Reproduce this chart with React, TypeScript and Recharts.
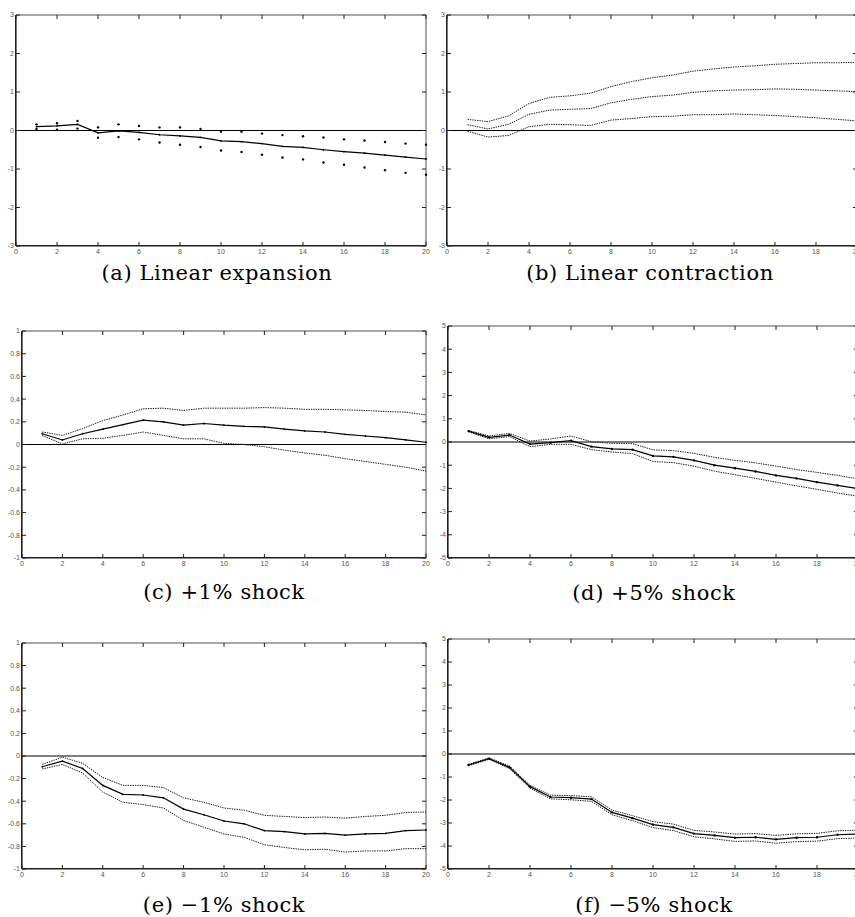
import { LineChart, Line, XAxis, YAxis, ReferenceLine } from 'recharts'

const horizons = [1, 2, 3, 4, 5, 6, 7, 8, 9, 10, 11, 12, 13, 14, 15, 16, 17, 18, 19, 20]
const xTicks = [0, 2, 4, 6, 8, 10, 12, 14, 16, 18, 20]
const ticksThree = [-3, -2, -1, 0, 1, 2, 3]
const ticksOne = [-1, -0.8, -0.6, -0.4, -0.2, 0, 0.2, 0.4, 0.6, 0.8, 1]
const ticksFive = [-5, -4, -3, -2, -1, 0, 1, 2, 3, 4, 5]

// (a) linear expansion
const expMean = [0.1, 0.12, 0.16, -0.06, -0.01, -0.05, -0.11, -0.14, -0.18, -0.27, -0.29, -0.34, -0.41, -0.44, -0.5, -0.55, -0.59, -0.64, -0.69, -0.74]
const expUpper = [0.16, 0.19, 0.25, 0.08, 0.16, 0.12, 0.08, 0.08, 0.04, -0.03, -0.03, -0.08, -0.12, -0.15, -0.18, -0.23, -0.26, -0.3, -0.34, -0.37]
const expLower = [0.04, 0.02, 0.05, -0.19, -0.17, -0.23, -0.31, -0.37, -0.43, -0.52, -0.56, -0.63, -0.7, -0.75, -0.83, -0.89, -0.96, -1.03, -1.1, -1.15]

// (b) linear contraction
const conMean = [0.15, 0.04, 0.16, 0.42, 0.53, 0.55, 0.57, 0.72, 0.81, 0.88, 0.92, 0.99, 1.03, 1.05, 1.06, 1.08, 1.07, 1.05, 1.03, 1.01]
const conUpper = [0.29, 0.23, 0.38, 0.7, 0.86, 0.9, 0.97, 1.14, 1.27, 1.37, 1.44, 1.54, 1.6, 1.65, 1.68, 1.72, 1.74, 1.76, 1.76, 1.77]
const conLower = [-0.02, -0.17, -0.13, 0.1, 0.16, 0.15, 0.13, 0.27, 0.31, 0.36, 0.37, 0.41, 0.41, 0.43, 0.41, 0.39, 0.36, 0.33, 0.29, 0.25]

// (c) +1% shock
const pos1Mean = [0.095, 0.04, 0.095, 0.135, 0.175, 0.215, 0.2, 0.17, 0.185, 0.17, 0.16, 0.155, 0.135, 0.12, 0.11, 0.09, 0.075, 0.06, 0.04, 0.02]
const pos1Upper = [0.11, 0.08, 0.14, 0.21, 0.26, 0.315, 0.32, 0.3, 0.32, 0.32, 0.32, 0.325, 0.32, 0.31, 0.31, 0.305, 0.3, 0.29, 0.285, 0.26]
const pos1Lower = [0.08, 0.005, 0.05, 0.055, 0.08, 0.11, 0.08, 0.05, 0.05, 0.01, 0.0, -0.02, -0.05, -0.075, -0.095, -0.125, -0.15, -0.175, -0.2, -0.235]

// (d) +5% shock
const pos5Mean = [0.47, 0.2, 0.3, -0.09, -0.03, 0.06, -0.2, -0.3, -0.33, -0.6, -0.64, -0.79, -1.0, -1.13, -1.27, -1.44, -1.57, -1.73, -1.87, -2.01]
const pos5Upper = [0.5, 0.26, 0.37, 0.04, 0.13, 0.26, 0.01, -0.06, -0.07, -0.34, -0.37, -0.49, -0.66, -0.79, -0.9, -1.04, -1.19, -1.31, -1.44, -1.59]
const pos5Lower = [0.44, 0.14, 0.23, -0.2, -0.1, -0.1, -0.33, -0.43, -0.5, -0.84, -0.89, -1.04, -1.26, -1.41, -1.57, -1.73, -1.89, -2.04, -2.2, -2.34]

// (e) -1% shock
const neg1Mean = [-0.095, -0.045, -0.11, -0.26, -0.34, -0.345, -0.37, -0.47, -0.52, -0.575, -0.6, -0.66, -0.67, -0.69, -0.685, -0.7, -0.69, -0.685, -0.66, -0.655]
const neg1Upper = [-0.075, -0.01, -0.065, -0.19, -0.26, -0.26, -0.28, -0.37, -0.41, -0.46, -0.48, -0.525, -0.535, -0.545, -0.54, -0.55, -0.535, -0.525, -0.5, -0.495]
const neg1Lower = [-0.115, -0.075, -0.15, -0.32, -0.41, -0.43, -0.46, -0.57, -0.63, -0.69, -0.72, -0.785, -0.81, -0.83, -0.825, -0.85, -0.84, -0.84, -0.82, -0.82]

// (f) -5% shock
const neg5Mean = [-0.48, -0.2, -0.58, -1.42, -1.87, -1.9, -1.96, -2.54, -2.79, -3.07, -3.19, -3.46, -3.54, -3.64, -3.62, -3.71, -3.64, -3.62, -3.51, -3.48]
const neg5Upper = [-0.45, -0.17, -0.52, -1.36, -1.79, -1.81, -1.86, -2.44, -2.68, -2.94, -3.05, -3.32, -3.39, -3.48, -3.46, -3.54, -3.47, -3.45, -3.34, -3.31]
const neg5Lower = [-0.51, -0.23, -0.64, -1.48, -1.95, -1.99, -2.06, -2.64, -2.9, -3.2, -3.33, -3.6, -3.69, -3.8, -3.78, -3.88, -3.81, -3.79, -3.68, -3.65]

const ML = 20
const MT = 6
const MR = 6
const MB = 14

const TICK_FONT = 'Liberation Sans, Arial, sans-serif'
const DARK = '#1f1f1f'

type PanelProps = {
  mean: number[]
  upper: number[]
  lower: number[]
  yDomain: [number, number]
  yTicks: number[]
  box: [number, number, number, number]
  caption: string
  captionX: number
  captionY: number
  meanDotted?: boolean
  bandDots?: boolean
  markerR?: number
}

function Panel({ mean, upper, lower, yDomain, yTicks, box, caption, captionX, captionY, meanDotted, bandDots, markerR = 0.9 }: PanelProps) {
  const [x0, y0, x1, y1] = box
  const rows = horizons.map((h, i) => ({ h, mean: mean[i], upper: upper[i], lower: lower[i] }))
  const plotW = x1 - x0
  const plotH = y1 - y0
  const width = plotW + ML + MR
  const height = plotH + MT + MB
  const rightEdge = ML + plotW
  const bottomEdge = MT + plotH

  // inward ticks on bottom and top frame, label under the bottom one
  const xTick = ({ x, y, payload }: any) => (
    <g>
      <line x1={x} x2={x} y1={bottomEdge - 4} y2={bottomEdge} stroke={DARK} strokeWidth={1} />
      <line x1={x} x2={x} y1={MT} y2={MT + 4} stroke={DARK} strokeWidth={1} />
      <text x={x} y={y} dy="0.71em" textAnchor="middle" fontFamily={TICK_FONT} fontSize={7} fill="#555">
        {payload.value}
      </text>
    </g>
  )
  // inward ticks on left and right frame, label left of the left one
  const yTick = ({ x, y, payload }: any) => (
    <g>
      <line x1={ML} x2={ML + 4} y1={y} y2={y} stroke={DARK} strokeWidth={1} />
      <line x1={rightEdge - 4} x2={rightEdge} y1={y} y2={y} stroke={DARK} strokeWidth={1} />
      <text x={x} y={y} dy="0.355em" textAnchor="end" fontFamily={TICK_FONT} fontSize={7} fill="#555">
        {payload.value}
      </text>
    </g>
  )

  const band = bandDots
    ? { stroke: 'none', strokeWidth: 0, dot: { r: 1.2, fill: '#000', stroke: 'none' } }
    : { stroke: '#1a1a1a', strokeWidth: 1, strokeDasharray: '1.4 1', dot: false }

  return (
    <>
      <div style={{ position: 'absolute', left: x0 - ML - 0.5, top: y0 - MT - 0.5 }}>
        <LineChart width={width} height={height} data={rows} margin={{ top: MT, right: MR, bottom: 0, left: 0 }}>
          <XAxis
            dataKey="h"
            type="number"
            domain={[0, 20]}
            ticks={xTicks}
            height={MB}
            tickSize={-4}
            tickMargin={7}
            interval={0}
            axisLine={{ stroke: DARK, strokeWidth: 1.2 }}
            tickLine={false}
            tick={xTick}
          />
          <YAxis
            type="number"
            domain={yDomain}
            ticks={yTicks}
            width={ML}
            tickSize={-4}
            tickMargin={6}
            interval={0}
            allowDataOverflow
            axisLine={{ stroke: DARK, strokeWidth: 1.2 }}
            tickLine={false}
            tick={yTick}
          />
          {/* box frame: light top/right */}
          <ReferenceLine y={yDomain[1]} stroke="#8a8a8a" strokeWidth={1.5} ifOverflow="visible" />
          <ReferenceLine x={20} stroke="#8a8a8a" strokeWidth={1.5} ifOverflow="visible" />
          <ReferenceLine y={0} stroke="#000" strokeWidth={1} />
          <Line type="linear" dataKey="upper" isAnimationActive={false} activeDot={false} {...band} />
          <Line type="linear" dataKey="lower" isAnimationActive={false} activeDot={false} {...band} />
          {meanDotted ? (
            <Line type="linear" dataKey="mean" stroke="#1a1a1a" strokeWidth={1} strokeDasharray="1.4 1" dot={false} activeDot={false} isAnimationActive={false} />
          ) : (
            <Line type="linear" dataKey="mean" stroke="#000" strokeWidth={1.2} dot={{ r: markerR, fill: '#000', stroke: 'none' }} activeDot={false} isAnimationActive={false} />
          )}
        </LineChart>
      </div>
      {/* dark left/bottom edges of the box, laid over the plot area */}
      <div
        style={{
          position: 'absolute',
          left: x0 - 1,
          top: y0,
          width: plotW + 1,
          height: plotH,
          borderLeft: `1px solid ${DARK}`,
          borderBottom: `1px solid ${DARK}`,
          boxSizing: 'border-box',
          pointerEvents: 'none',
        }}
      />
      <div
        style={{
          position: 'absolute',
          left: captionX - 200,
          top: captionY - 10,
          width: 400,
          lineHeight: '20px',
          textAlign: 'center',
          fontFamily: 'DejaVu Serif, serif',
          fontSize: 21,
          letterSpacing: 0.6,
          color: '#000',
          whiteSpace: 'nowrap',
        }}
      >
        {caption}
      </div>
    </>
  )
}

export default function App() {
  return (
    <div style={{ position: 'fixed', left: 0, top: 0, width: 855, height: 917, overflow: 'hidden', background: '#fff' }}>
      <Panel mean={expMean} upper={expUpper} lower={expLower} yDomain={[-3, 3]} yTicks={ticksThree} box={[16, 15, 426, 246]} caption="(a) Linear expansion" captionX={217} captionY={273} bandDots />
      <Panel mean={conMean} upper={conUpper} lower={conLower} yDomain={[-3, 3]} yTicks={ticksThree} box={[447, 15, 857, 246]} caption="(b) Linear contraction" captionX={650} captionY={273} meanDotted />
      <Panel mean={pos1Mean} upper={pos1Upper} lower={pos1Lower} yDomain={[-1, 1]} yTicks={ticksOne} box={[22, 331, 426, 558]} caption="(c) +1% shock" captionX={224} captionY={592} />
      <Panel mean={pos5Mean} upper={pos5Upper} lower={pos5Lower} yDomain={[-5, 5]} yTicks={ticksFive} box={[448, 326, 858, 558]} caption="(d) +5% shock" captionX={654} captionY={593} markerR={1.2} />
      <Panel mean={neg1Mean} upper={neg1Upper} lower={neg1Lower} yDomain={[-1, 1]} yTicks={ticksOne} box={[22, 643, 426, 869]} caption="(e) −1% shock" captionX={224} captionY={905} />
      <Panel mean={neg5Mean} upper={neg5Upper} lower={neg5Lower} yDomain={[-5, 5]} yTicks={ticksFive} box={[448, 639, 858, 869]} caption="(f) −5% shock" captionX={654} captionY={905} markerR={1.2} />
    </div>
  )
}
